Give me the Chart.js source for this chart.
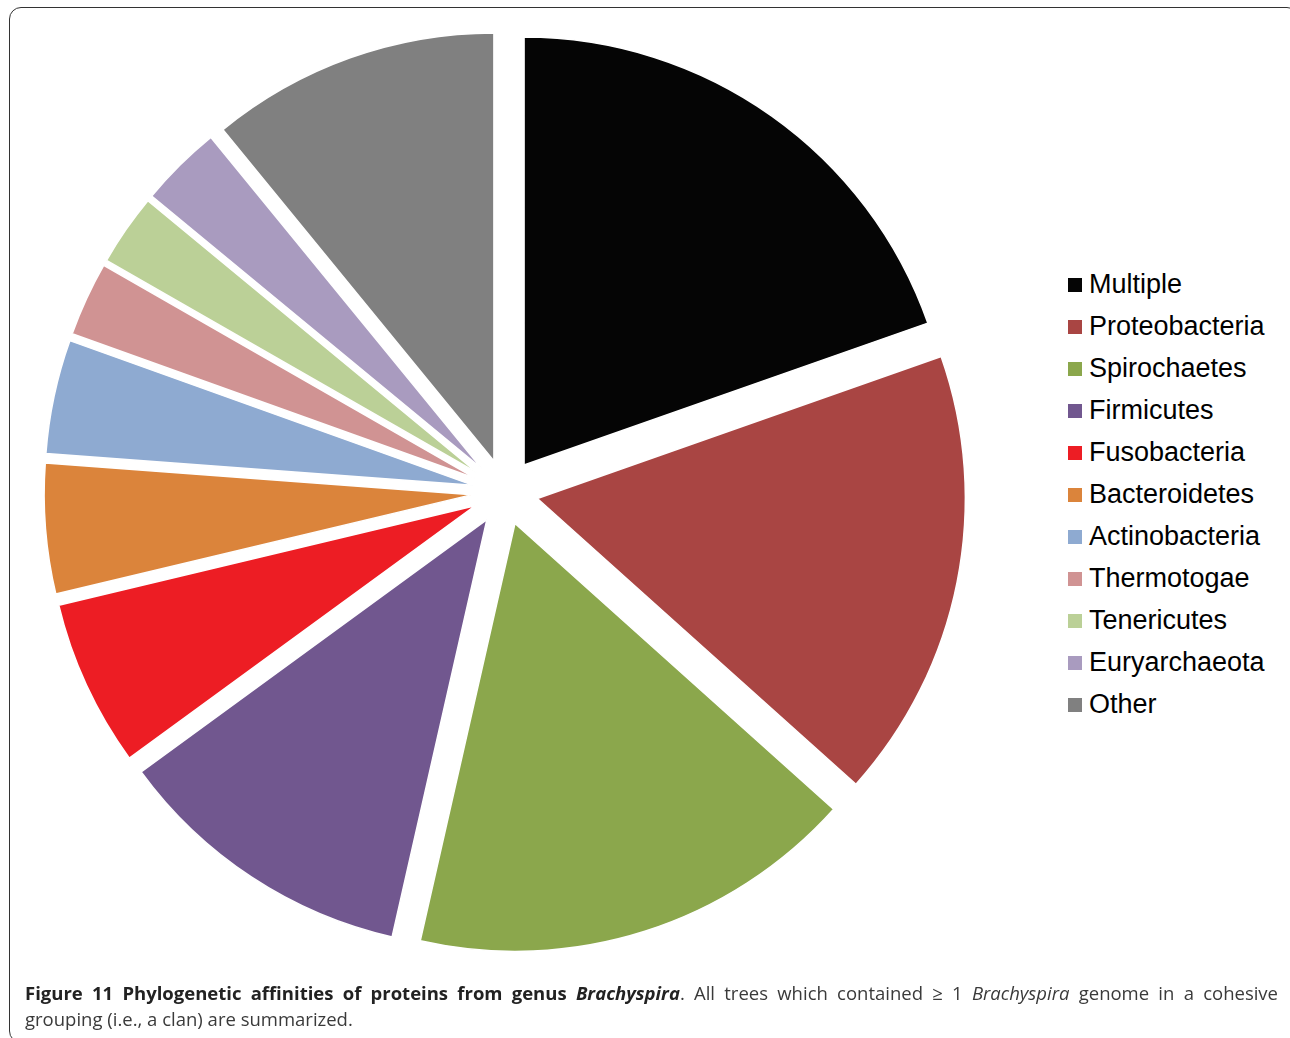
<!DOCTYPE html>
<html>
<head>
<meta charset="utf-8">
<script src="https://cdn.jsdelivr.net/npm/chart.js@4/dist/chart.umd.min.js"></script>
<style>
  body { margin:0; background:#fff; width:1290px; height:1038px; overflow:hidden; position:relative; }
  #frame { position:absolute; left:9px; top:7px; width:1290px; height:1036px; border:1.5px solid #333; border-radius:12px; box-sizing:border-box; }
  #pie { position:absolute; left:0; top:0; }
  #legend { position:absolute; left:1068px; top:263px; font-family:"Liberation Sans", Arial, sans-serif; font-size:27px; color:#000; }
  .item { height:42px; display:flex; align-items:center; }
  .box { width:14px; height:14px; margin-right:7px; margin-top:1px; }
  #caption { position:absolute; left:25px; top:980px; width:1253px; font-family:"Open Sans", sans-serif; font-size:18.5px; line-height:26px; color:#3a3a3a; }
  #caption .l1 { text-align:justify; text-align-last:justify; white-space:nowrap; }
  #caption b { color:#222; }
</style>
</head>
<body>
<div id="frame"></div>
<canvas id="pie" width="1010" height="984"></canvas>
<div id="legend"></div>
<div id="caption">
  <div class="l1"><b>Figure 11 Phylogenetic affinities of proteins from genus <i>Brachyspira</i></b>. All trees which contained ≥ 1 <i>Brachyspira</i> genome in a cohesive</div>
  <div>grouping (i.e., a clan) are summarized.</div>
</div>
<script>
const grupos = ['Multiple','Proteobacteria','Spirochaetes','Firmicutes','Fusobacteria','Bacteroidetes','Actinobacteria','Thermotogae','Tenericutes','Euryarchaeota','Other'];
const percentuais = [19.6, 17.0, 16.9, 11.4, 6.3, 4.9, 4.3, 2.8, 2.7, 3.1, 10.9];
const cores = ['#050505','#a94543','#8ba74c','#71578f','#ed1d24','#db843b','#8eaad1','#d09393','#bbd097','#a99bbf','#808080'];

const afastamento = 33;

// explode every slice outwards along its middle angle, like the Excel original
const explodir = {
  id: 'explodir',
  afterDatasetUpdate(chart, args) {
    chart.getDatasetMeta(args.index).data.forEach(arc => {
      const meio = (arc.startAngle + arc.endAngle) / 2;
      arc.x += Math.cos(meio) * afastamento;
      arc.y += Math.sin(meio) * afastamento;
    });
  }
};

new Chart(document.getElementById('pie'), {
  type: 'pie',
  data: {
    labels: grupos,
    datasets: [{
      data: percentuais,
      backgroundColor: cores,
      borderColor: '#fff',
      borderWidth: 1.5,
      clip: false
    }]
  },
  options: {
    responsive: false,
    animation: false,
    radius: 428,
    layout: { padding: 0 },
    plugins: { legend: { display: false }, tooltip: { enabled: false } }
  },
  plugins: [explodir]
});

const legenda = document.getElementById('legend');
grupos.forEach((g, i) => {
  const item = document.createElement('div');
  item.className = 'item';
  item.innerHTML = `<div class="box" style="background:${cores[i]}"></div><span>${g}</span>`;
  legenda.appendChild(item);
});
</script>
</body>
</html>
